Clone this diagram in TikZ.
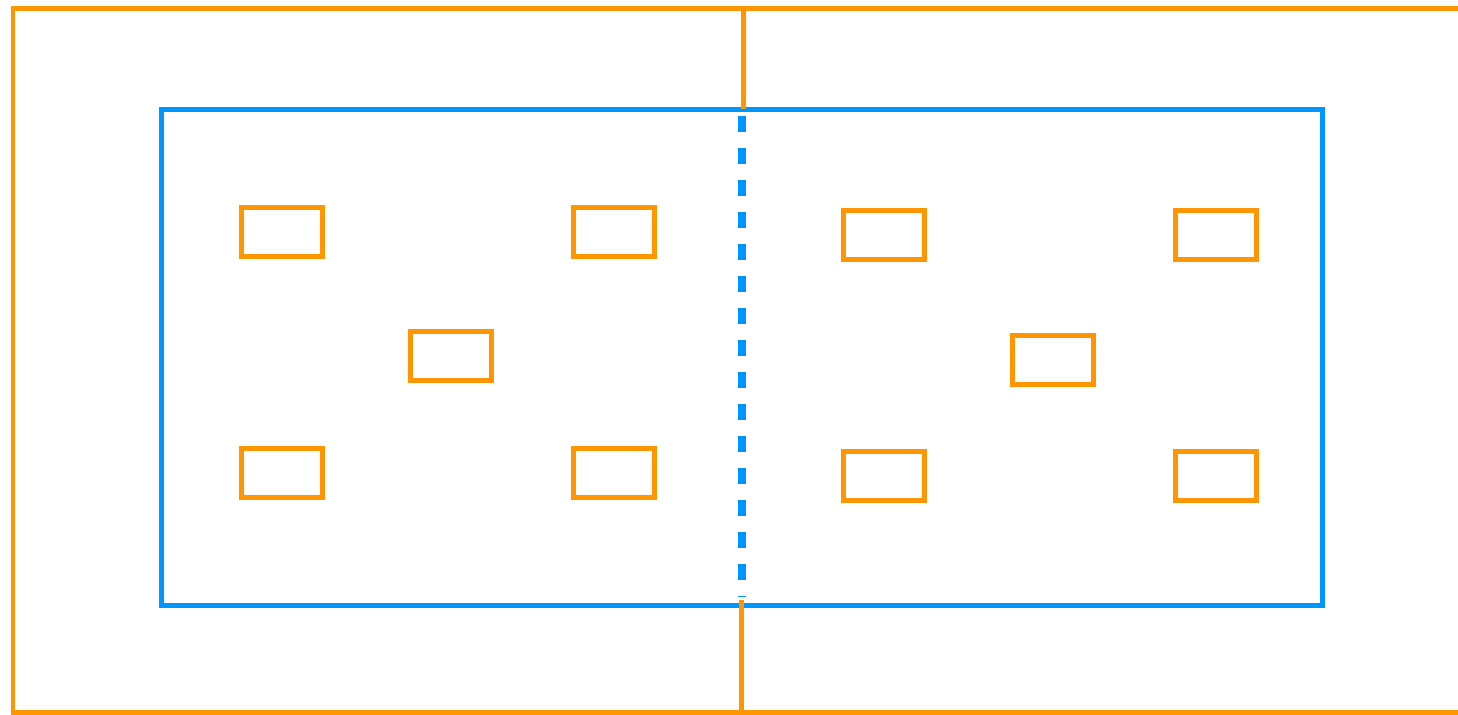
\documentclass[tikz,border=0pt]{standalone}
\usepackage{tikz}
\usetikzlibrary{backgrounds,calc}
\definecolor{frameorange}{RGB}{255,149,0}
\definecolor{areablue}{RGB}{0,150,255}

\begin{document}
\begin{tikzpicture}[x=0.02cm,y=-0.02cm,
  outer/.style={draw=frameorange,line width=0.1cm},
  field/.style={draw=areablue,line width=0.1cm},
  midline/.style={draw=areablue,line width=0.15cm,dash pattern=on 0.32cm off 0.32cm},
  spot/.style={draw=frameorange,line width=0.1cm,rectangle,inner sep=0pt,
    minimum width=1.62cm,minimum height=0.98cm}]
\useasboundingbox (0,0) rectangle (1458,714);
% blue field
\draw[field] (161,109) rectangle (1322,605);
\draw[midline] (742,116) -- (742,597);
% outer frame and centre line
\draw[outer] (1458,8) -- (13,8) -- (13,712) -- (1458,712);
\draw[outer] (743,8) -- (743,109);
\draw[outer] (741,600) -- (741,712);
% left half
\node[spot] (l1) at (282,232) {};
\node[spot] (l2) at (614,232) {};
\node[spot] (l3) at (451,356) {};
\node[spot] (l4) at (282,473) {};
\node[spot] (l5) at (614,473) {};
% right half
\node[spot] (r1) at (884,235) {};
\node[spot] (r2) at (1216,235) {};
\node[spot] (r3) at (1053,360) {};
\node[spot] (r4) at (884,476) {};
\node[spot] (r5) at (1216,476) {};
\end{tikzpicture}
\end{document}
